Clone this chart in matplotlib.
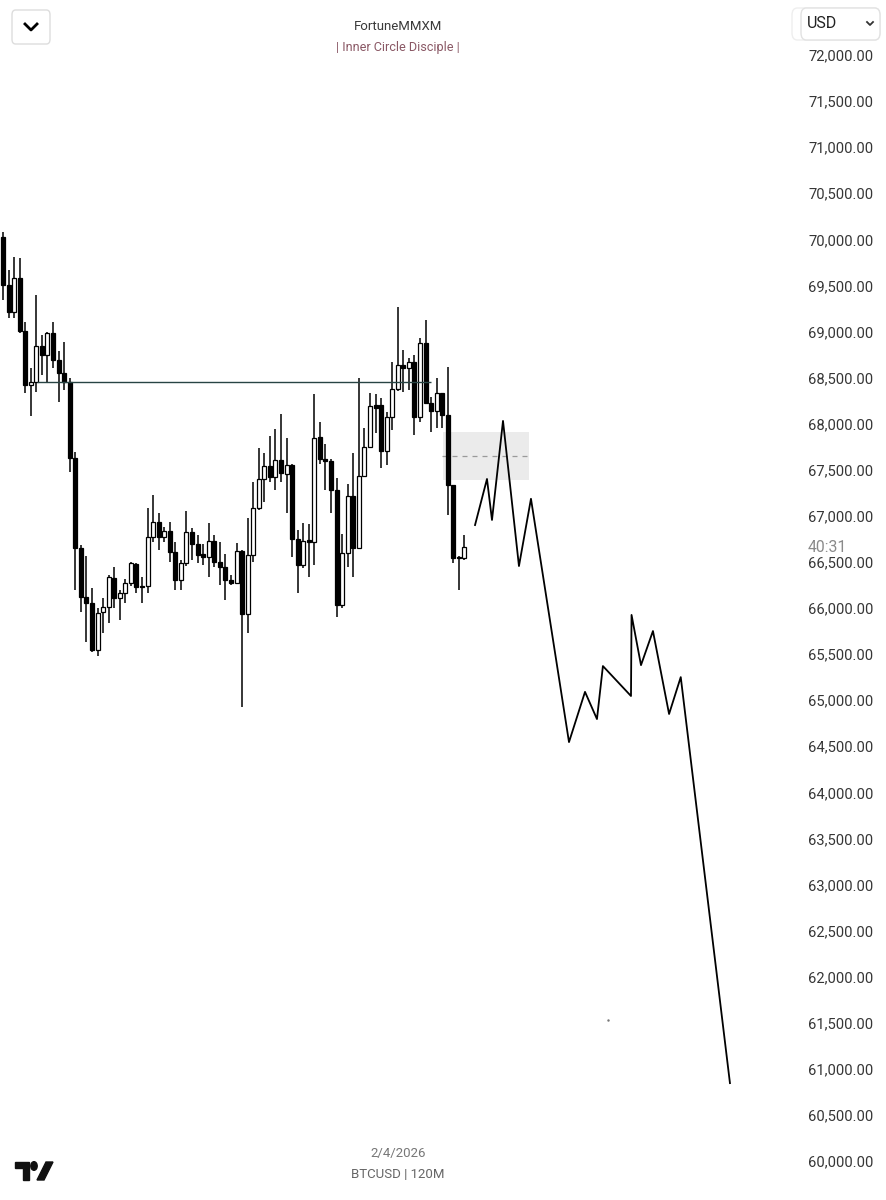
import numpy as np
import matplotlib
matplotlib.use("Agg")
import matplotlib.pyplot as plt
from matplotlib.patches import FancyBboxPatch, Rectangle, Circle, Polygon
from matplotlib.lines import Line2D

plt.rcParams['font.family'] = ['Roboto', 'DejaVu Sans']

# --------------------------------------------
# BTCUSD 120M candles
# --------------------------------------------
opens = [70025, 69505, 69211, 69580, 69005, 68420, 68452, 68843, 68745, 68984,
         68691, 68550, 68452, 67627, 66651, 66119, 66054, 65544, 65957, 66011,
         66326, 66108, 66163, 66271, 66477, 66239, 66239, 66770, 66933, 66770,
         66835, 66608, 66304, 66488, 66825, 66694, 66586, 66553, 66727, 66499,
         66445, 66304, 66271, 66618, 65935, 66575, 67085, 67400, 67541, 67421,
         67606, 67454, 67552, 66749, 66467, 66738, 66716, 67855, 67617, 67595,
         67280, 66033, 66597, 67215, 66651, 67432, 67747, 68202, 68202, 67703,
         68072, 68376, 68636, 68604, 68669, 68072, 68875, 68224, 68137, 68333,
         68094, 67334, 66553, 66543]
highs = [70080, 69667, 69808, 69797, 69103, 68604, 69396, 68962, 68994, 69103,
         68788, 68886, 68495, 67693, 66684, 66564, 66217, 66000, 66108, 66358,
         66445, 66196, 66315, 66499, 66488, 66337, 67085, 67226, 67031, 66879,
         66933, 66716, 66521, 67052, 66868, 66792, 66694, 66922, 66792, 66716,
         66586, 66358, 66705, 66629, 66976, 67367, 67736, 67682, 67866, 67942,
         68105, 67844, 67562, 66846, 66922, 66911, 68322, 68018, 67780, 67617,
         67410, 66803, 67345, 67682, 68495, 67953, 68333, 68322, 68278, 68127,
         68669, 69266, 68799, 68712, 68745, 68929, 69125, 68289, 68495, 68333,
         68615, 67334, 66564, 66792]
lows = [69342, 69146, 69146, 68984, 68333, 68083, 68343, 68528, 68452, 68604,
        68235, 68365, 67476, 66196, 65957, 65631, 65523, 65479, 65729, 65837,
        66000, 65870, 66054, 66239, 66163, 66054, 66163, 66716, 66629, 66716,
        66499, 66196, 66196, 66456, 66521, 66488, 66467, 66337, 66445, 66250,
        66087, 66250, 66271, 64926, 65729, 66499, 67063, 67150, 67367, 67280,
        67367, 67031, 66553, 66163, 66434, 66337, 66467, 67562, 67280, 67031,
        65903, 66000, 66445, 66337, 66651, 67421, 67747, 67899, 67519, 67552,
        67931, 68354, 68343, 68365, 67877, 68018, 68224, 67910, 67953, 67953,
        67009, 66488, 66196, 66521]
closes = [69505, 69211, 69580, 69005, 68420, 68452, 68843, 68745, 68984, 68691,
          68550, 68452, 67627, 66651, 66119, 66054, 65544, 65946, 66011, 66337,
          66108, 66163, 66271, 66488, 66228, 66228, 66770, 66933, 66770, 66835,
          66608, 66304, 66488, 66825, 66694, 66575, 66553, 66727, 66499, 66445,
          66304, 66271, 66618, 65935, 66575, 67085, 67400, 67541, 67421, 67606,
          67465, 67552, 66749, 66467, 66727, 66716, 67844, 67617, 67595, 67280,
          66033, 66597, 67215, 66651, 67432, 67747, 68192, 68170, 67703, 68072,
          68376, 68636, 68604, 68669, 68072, 68875, 68224, 68137, 68333, 68094,
          67334, 66543, 66543, 66662]

# level line, premium box and projected path
level_price = 68452
level_start, level_end = 7.1, 78.0
box_left, box_right = 80.1, 95.6
box_low, box_high = 67389, 67910
box_mid = 67650
path_x = [85.9, 88.05, 88.95, 90.93, 93.8, 95.96, 102.8, 105.68, 107.83, 108.9,
          113.95, 114.05, 115.75, 117.9, 120.8, 122.9, 131.75]
path_y = [66900, 67400, 66955, 68030, 66455, 67185, 64545, 65090, 64795, 65370,
          65045, 65925, 65380, 65750, 64850, 65250, 60845]

price_ticks = np.arange(60000, 72001, 500)

# --------------------------------------------
# Figure
# --------------------------------------------
W, H = 886, 1200
fig = plt.figure(figsize=(W / 100, H / 100), dpi=100)
fig.patch.set_facecolor('white')

ax = fig.add_axes([0, 0, 790 / W, 1])
ax.set_xlim(0.46, 142.55)
ax.set_ylim(72596.75 - 10.85 * 1200, 72596.75)

for s in ax.spines.values():
    s.set_visible(False)
ax.set_xticks([])
ax.yaxis.tick_right()
ax.set_yticks(price_ticks)
ax.set_yticklabels([f"{p:,.2f}" for p in price_ticks])
ax.tick_params(axis='y', length=0, pad=13, labelsize=10.6, labelcolor='#363636')

idx = np.arange(1, len(opens) + 1)
o = np.array(opens)
c = np.array(closes)
ax.vlines(idx, lows, highs, color='black', lw=1.1, zorder=2)
up = c >= o
body_lo = np.minimum(o, c)
body_h = np.maximum(np.abs(c - o), 12)
ax.bar(idx, body_h, bottom=body_lo, width=0.72,
       color=np.where(up, 'white', 'black'), edgecolor='black', linewidth=0.9, zorder=3)

ax.hlines(level_price, level_start, level_end, color='#284444', lw=1.0, zorder=4)

ax.add_patch(Rectangle((box_left, box_low), box_right - box_left, box_high - box_low,
                       facecolor='#ebebeb', edgecolor='none', zorder=1))
ax.hlines(box_mid, box_left - 0.2, box_right, color='#9a9a9a', lw=0.9,
          linestyles=(0, (4, 4)), zorder=1.5)

ax.plot(path_x, path_y, color='black', lw=1.3, zorder=4)
ax.plot([109.8], [61530], marker='.', ms=1.5, color='#777777')


# --------------------------------------------
# Header / footer chrome (figure pixel coords)
# --------------------------------------------
def fx(x):
    return x / W


def fy(y):
    return 1 - y / H


fig.patches.append(FancyBboxPatch((fx(12), fy(44)), fx(38), 34 / H,
                                  boxstyle="round,pad=0,rounding_size=0.004",
                                  transform=fig.transFigure, facecolor='white',
                                  edgecolor='#dddddd', lw=1))
fig.lines.append(Line2D([fx(25), fx(31), fx(37)], [fy(24), fy(30), fy(24)],
                        transform=fig.transFigure, color='black', lw=2))

fig.patches.append(FancyBboxPatch((fx(792), fy(40)), fx(88), 32 / H,
                                  boxstyle="round,pad=0,rounding_size=0.006",
                                  transform=fig.transFigure, facecolor='white',
                                  edgecolor='#eeeeee', lw=1))
fig.patches.append(FancyBboxPatch((fx(801), fy(40)), fx(79), 32 / H,
                                  boxstyle="round,pad=0,rounding_size=0.006",
                                  transform=fig.transFigure, facecolor='white',
                                  edgecolor='#e2e2e2', lw=1))
fig.text(fx(807), fy(24), "USD", ha='left', va='center', fontsize=11.5, color='#222222')
fig.lines.append(Line2D([fx(867), fx(870), fx(873)], [fy(22), fy(25), fy(22)],
                        transform=fig.transFigure, color='#333333', lw=1.3))

fig.text(fx(398), fy(27), "FortuneMMXM", ha='center', va='center', fontsize=9.5,
         color='#3a3a3a')
fig.text(fx(398), fy(48), "| Inner Circle Disciple |", ha='center', va='center',
         fontsize=9.1, color='#8a5865')

fig.text(fx(398), fy(1153), "2/4/2026", ha='center', va='center', fontsize=9.5,
         color='#777777')
fig.text(fx(398), fy(1174), "BTCUSD | 120M", ha='center', va='center', fontsize=9.5,
         color='#666666')

fig.text(fx(808), fy(547), "40:31", ha='left', va='center', fontsize=11.3,
         color='#8a8a8a')

# TradingView logo
fig.patches.append(Polygon([(fx(15), fy(1162)), (fx(29), fy(1162)), (fx(29), fy(1180)),
                            (fx(23), fy(1180)), (fx(23), fy(1168)), (fx(15), fy(1168))],
                           closed=True, transform=fig.transFigure, color='#111111'))
fig.patches.append(Circle((fx(34), fy(1166)), 3.2 / W, transform=fig.transFigure,
                          color='#111111'))
fig.patches.append(Polygon([(fx(37), fy(1180)), (fx(44), fy(1180)), (fx(53), fy(1162)),
                            (fx(46), fy(1162))],
                           closed=True, transform=fig.transFigure, color='#111111'))

fig.savefig("out.png", dpi=100, facecolor='white')
